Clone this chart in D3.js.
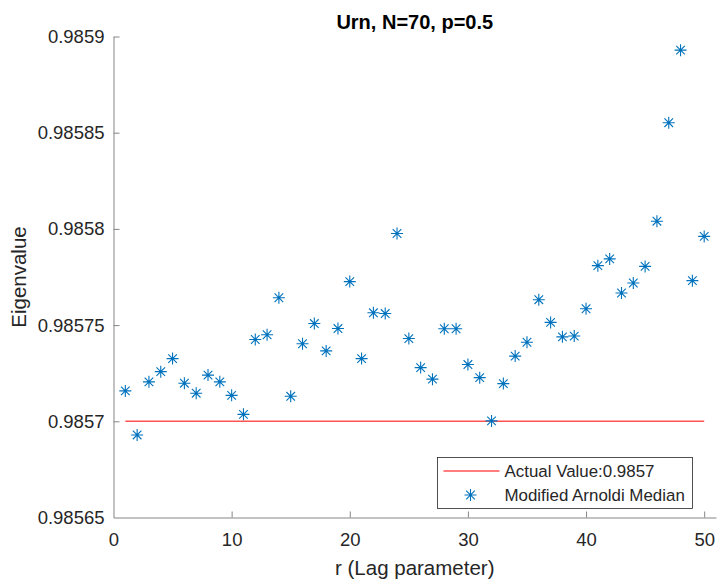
<!DOCTYPE html>
<html>
<head>
<meta charset="utf-8">
<script src="https://cdn.jsdelivr.net/npm/d3@7"></script>
<style>
    body { margin: 0; background: #fff; }
    #chart { width: 718px; height: 582px; }
    text { font-family: "Liberation Sans", Arial, Helvetica, sans-serif; }
</style>
</head>
<body>
<div id="chart"></div>
<script>
// Lag parameter r and the median eigenvalue from modified Arnoldi
const lags = d3.range(1, 51);
const medianValues = [
    0.9857158, 0.9856929, 0.9857205, 0.9857258, 0.9857326,
    0.9857198, 0.9857146, 0.9857240, 0.9857205, 0.9857135,
    0.9857036, 0.9857425, 0.9857450, 0.9857642, 0.9857130,
    0.9857403, 0.9857508, 0.9857366, 0.9857482, 0.9857726,
    0.9857326, 0.9857564, 0.9857560, 0.9857976, 0.9857430,
    0.9857279, 0.9857219, 0.9857481, 0.9857481, 0.9857295,
    0.9857227, 0.9857002, 0.9857196, 0.9857339, 0.9857411,
    0.9857632, 0.9857514, 0.9857439, 0.9857443, 0.9857585,
    0.9857809, 0.9857844, 0.9857667, 0.9857719, 0.9857805,
    0.9858040, 0.9858552, 0.9858929, 0.9857731, 0.9857961
];
const actualValue = 0.9857;
const actualRange = [1, 50];

const xTicks = [0, 10, 20, 30, 40, 50];
const yTicks = [0.98565, 0.9857, 0.98575, 0.9858, 0.98585, 0.9859];
const yTickLabels = ["0.98565", "0.9857", "0.98575", "0.9858", "0.98585", "0.9859"];

const titleText = "Urn, N=70, p=0.5";
const legendLabels = ["Actual Value:0.9857", "Modified Arnoldi Median"];

const textColor = "#262626";
const lineColor = "#858585";
const blue = "#0072BD";
const red = "#ff5252";

const svg = d3.select("#chart")
    .append("svg")
    .attr("width", 718)
    .attr("height", 582);

// area of the axes
const plotLeft = 113.5, plotRight = 716, plotTop = 36.5, plotBottom = 517.5;

const x = d3.scaleLinear()
    .domain([0, 51])
    .range([plotLeft, plotRight]);

const y = d3.scaleLinear()
    .domain([0.98565, 0.9859])
    .range([plotBottom, plotTop]);

// x axis (ticks pointing inwards, like matlab)
const xAxis = svg.append("g")
    .attr("transform", `translate(0,${plotBottom})`)
    .call(d3.axisBottom(x).tickValues(xTicks).tickSizeInner(-6).tickSizeOuter(0).tickPadding(15));

const yAxis = svg.append("g")
    .attr("transform", `translate(${plotLeft},0)`)
    .call(d3.axisLeft(y).tickValues(yTicks)
        .tickFormat((d, i) => yTickLabels[i])
        .tickSizeInner(-6).tickSizeOuter(0).tickPadding(9));

[xAxis, yAxis].forEach(ax => {
    ax.select(".domain").attr("stroke", lineColor).attr("stroke-width", 1);
    ax.selectAll(".tick line").attr("stroke", lineColor).attr("stroke-width", 1);
    ax.selectAll(".tick text")
        .attr("fill", textColor)
        .style("font-size", "18.5px")
        .style("font-family", "'Liberation Sans', Arial, sans-serif");
});
// no inner tick on the corner
yAxis.selectAll(".tick line").filter(d => d === 0.98565).remove();
xAxis.selectAll(".tick line").filter(d => d === 0).remove();

// title
svg.append("text")
    .attr("x", (plotLeft + plotRight) / 2)
    .attr("y", 29)
    .attr("text-anchor", "middle")
    .attr("fill", "#000")
    .style("font-size", "20px")
    .style("font-weight", "bold")
    .text(titleText);

// axis labels
svg.append("text")
    .attr("x", (plotLeft + plotRight) / 2)
    .attr("y", 575)
    .attr("text-anchor", "middle")
    .attr("fill", textColor)
    .style("font-size", "20.5px")
    .text("r (Lag parameter)");

svg.append("text")
    .attr("transform", `translate(26,${(plotTop + plotBottom) / 2}) rotate(-90)`)
    .attr("text-anchor", "middle")
    .attr("fill", textColor)
    .style("font-size", "20.5px")
    .text("Eigenvalue");

// red line with the actual value
svg.append("line")
    .attr("x1", x(actualRange[0]))
    .attr("x2", x(actualRange[1]))
    .attr("y1", y(actualValue))
    .attr("y2", y(actualValue))
    .attr("stroke", red)
    .attr("stroke-width", 1.4);

// asterisk marker
const star = (g, r, d) => {
    g.append("path")
        .attr("d", `M0,${-r}V${r}M${-r},0H${r}M${-d},${-d}L${d},${d}M${-d},${d}L${d},${-d}`)
        .attr("fill", "none")
        .attr("stroke", blue)
        .attr("stroke-width", 1.1);
};

const points = svg.selectAll("g.pt")
    .data(lags.map((r, i) => ({ r: r, v: medianValues[i] })))
    .enter()
    .append("g")
    .attr("class", "pt")
    .attr("transform", d => `translate(${x(d.r)},${y(d.v)})`);
points.each(function () { star(d3.select(this), 6, 4.3); });

// legend
const legend = svg.append("g")
    .attr("transform", "translate(437.5,457.5)");

legend.append("rect")
    .attr("width", 255)
    .attr("height", 51)
    .attr("fill", "#fff")
    .attr("stroke", textColor)
    .attr("stroke-width", 0.8);

legend.append("line")
    .attr("x1", 6)
    .attr("x2", 62)
    .attr("y1", 13.5)
    .attr("y2", 13.5)
    .attr("stroke", red)
    .attr("stroke-width", 1.4);

star(legend.append("g").attr("transform", "translate(33,37.5)"), 6, 4.3);

legend.selectAll("text.lab")
    .data(legendLabels)
    .enter()
    .append("text")
    .attr("class", "lab")
    .attr("x", 67)
    .attr("y", (d, i) => 19.5 + i * 24)
    .attr("fill", textColor)
    .style("font-size", "16.9px")
    .text(d => d);
</script>
</body>
</html>
